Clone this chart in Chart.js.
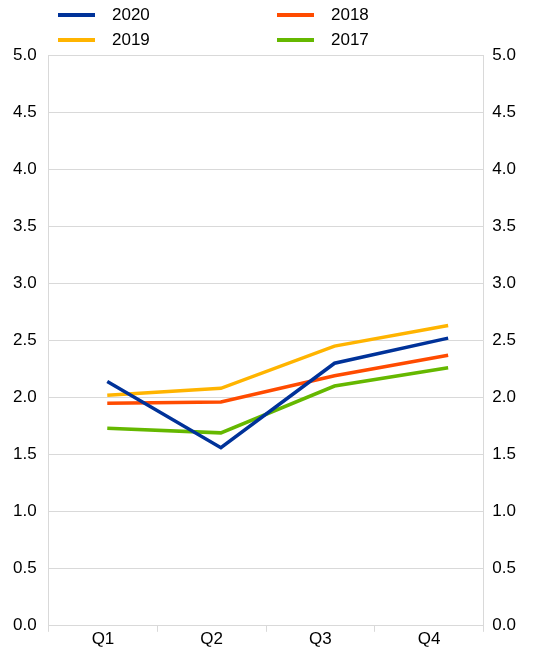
<!DOCTYPE html>
<html>
<head>
<meta charset="utf-8">
<script src="https://cdn.jsdelivr.net/npm/chart.js@4"></script>
<style>
  body { margin: 0; background: #fff; font-family: "Liberation Sans", Arial, sans-serif; }
  #wrap { position: relative; width: 547px; height: 648px; }
  #legend { position: absolute; left: 58px; top: 4px; display: grid;
            grid-template-columns: 219px 200px; row-gap: 4px; }
  .item { display: flex; align-items: center; font-size: 17px; height: 21px; color: #000; }
  .swatch { width: 37px; height: 4px; margin-right: 17px; }
</style>
</head>
<body>
<div id="wrap">
  <div id="legend"></div>
  <canvas id="myChart" width="547" height="648"></canvas>
</div>
<script>
var quarters = ['Q1', 'Q2', 'Q3', 'Q4'];
var y2020 = [2.14, 1.56, 2.30, 2.52];
var y2019 = [2.02, 2.08, 2.45, 2.63];
var y2018 = [1.95, 1.96, 2.19, 2.37];
var y2017 = [1.73, 1.69, 2.10, 2.26];
var yTicks = [0, 0.5, 1, 1.5, 2, 2.5, 3, 3.5, 4, 4.5, 5];

// legend reads row by row: 2020, 2018 / 2019, 2017
var series = [
    {label: '2020', data: y2020, color: '#003299'},
    {label: '2018', data: y2018, color: '#ff4b00'},
    {label: '2019', data: y2019, color: '#ffb400'},
    {label: '2017', data: y2017, color: '#65b800'}
];

var font = {family: '"Liberation Sans", Arial, sans-serif', size: 17};
var gridColor = '#d9d9d9';

var legend = document.getElementById('legend');
series.forEach(function (s) {
    var item = document.createElement('div');
    item.className = 'item';
    item.innerHTML = '<span class="swatch" style="background:' + s.color + '"></span>' + s.label;
    legend.appendChild(item);
});

function yAxis(pos, onChart, pad) {
    return {
        position: pos,
        min: yTicks[0],
        max: yTicks[yTicks.length - 1],
        afterBuildTicks: function (axis) {
            axis.ticks = yTicks.map(function (v) { return {value: v}; });
        },
        ticks: {
            font: font,
            color: '#000',
            padding: pad,
            callback: function (v) { return v.toFixed(1); }
        },
        grid: {color: gridColor, drawTicks: false, drawOnChartArea: onChart},
        border: {color: gridColor}
    };
}

var ctx = document.getElementById('myChart').getContext('2d');
var myChart = new Chart(ctx, {
    type: 'line',
    data: {
        datasets: series.map(function (s) {
            return {
                label: s.label,
                data: s.data.map(function (v, i) { return {x: i, y: v}; }),
                borderColor: s.color,
                backgroundColor: s.color,
                borderWidth: 3.5,
                pointRadius: 0,
                tension: 0,
                xAxisID: 'xPos',
                yAxisID: 'y'
            };
        })
    },
    options: {
        responsive: false,
        animation: false,
        layout: {padding: {top: 55, left: 1, right: 22, bottom: 0}},
        plugins: {
            legend: {display: false},
            tooltip: {enabled: false}
        },
        scales: {
            x: {
                type: 'category',
                labels: quarters,
                offset: true,
                grid: {offset: true, drawOnChartArea: false, tickLength: 6, color: gridColor},
                border: {color: gridColor},
                ticks: {font: {family: font.family, size: 17, lineHeight: 1}, color: '#000', padding: -1}
            },
            xPos: {
                type: 'linear',
                display: false,
                min: -0.516,
                max: 3.31
            },
            y: yAxis('left', true, 12),
            y2: yAxis('right', false, 9)
        }
    }
});
</script>
</body>
</html>
